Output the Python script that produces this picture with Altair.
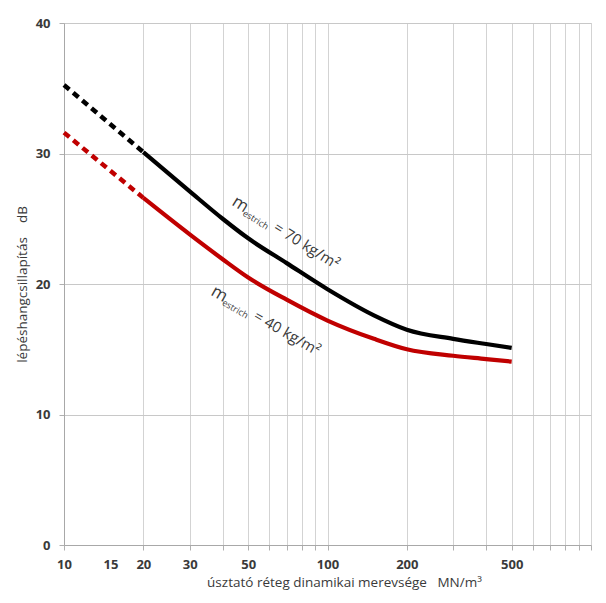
import altair as alt
import pandas as pd

# ---- data ----
x_solid = [20, 30, 40, 50, 70, 100, 150, 200, 300, 400, 500]
black_solid = [30.1, 27.1, 25.0, 23.5, 21.6, 19.6, 17.6, 16.5, 15.8, 15.4, 15.1]
red_solid = [26.6, 23.8, 21.9, 20.5, 18.8, 17.2, 15.8, 15.0, 14.5, 14.25, 14.05]

x_dash = [10, 20]
black_dash = [35.25, 30.1]
red_dash = [31.6, 26.6]

x_grid_values = [10, 15, 20, 30, 40, 50, 60, 70, 80, 90, 100,
                 200, 300, 400, 500, 600, 700, 800, 900, 1000]
x_label_values = [10, 15, 20, 30, 50, 100, 200, 500]
y_values = [0, 10, 20, 30, 40]

# annotation anchors (data coords), angle
ann_x = [43.0, 35.8]
ann_y = [26.1, 19.2]
ann_main = ["= 70 kg/m²", "= 40 kg/m²"]
ann_angle = [32, 30]

BLACK = "#000000"
RED = "#c00000"
TXT = "#3a3a3a"
FONT = "Open Sans"
NB = "\u00a0"

solid = pd.DataFrame({
    "x": x_solid * 2,
    "y": black_solid + red_solid,
    "s": ["70"] * len(x_solid) + ["40"] * len(x_solid),
})
dash = pd.DataFrame({
    "x": x_dash * 2,
    "y": black_dash + red_dash,
    "s": ["70"] * len(x_dash) + ["40"] * len(x_dash),
})

lab_list = ",".join(str(v) for v in x_label_values)
x_axis = alt.Axis(
    values=x_grid_values,
    labelExpr=f"indexof([{lab_list}], datum.value) >= 0 ? format(datum.value, 'd') : ''",
    labelOverlap=False,
    labelFlush=False,
    labelFont=FONT, labelFontSize=13, labelFontWeight="bold", labelColor=TXT,
    labelPadding=8,
    grid=True, gridColor="#d3d3d3", gridWidth=1,
    gridOpacity={"condition": {"test": "datum.value == 15", "value": 0}, "value": 1},
    tickOpacity={"condition": {"test": "datum.value == 15", "value": 0}, "value": 1},
    tickColor="#b0b0b0", tickSize=5,
    domainColor="#a8a8a8",
    title=f"úsztató réteg dinamikai merevsége{NB}{NB}{NB}MN/m³",
    titleFont=FONT, titleFontSize=13.5, titleFontWeight="normal", titleColor=TXT,
    titlePadding=4, titleX=280,
)
y_axis = alt.Axis(
    values=y_values,
    labelFont=FONT, labelFontSize=13, labelFontWeight="bold", labelColor=TXT,
    labelPadding=9,
    grid=True, gridColor="#c8c8c8", gridWidth=1,
    tickColor="#b0b0b0", tickSize=5,
    domainColor="#a8a8a8",
    title=f"lépéshangcsillapítás{NB}{NB}{NB}{NB}dB",
    titleFont=FONT, titleFontSize=13.5, titleFontWeight="normal", titleColor=TXT,
    titlePadding=6,
)

xs = alt.Scale(type="log", domain=[10, 1000], nice=False)
ys = alt.Scale(domain=[0, 40], nice=False)
col = alt.Color("s:N", scale=alt.Scale(domain=["70", "40"], range=[BLACK, RED]), legend=None)

base_solid = alt.Chart(solid).mark_line(strokeWidth=4.2, interpolate="monotone").encode(
    x=alt.X("x:Q", scale=xs, axis=x_axis),
    y=alt.Y("y:Q", scale=ys, axis=y_axis),
    color=col,
    detail="s:N",
)
base_dash = alt.Chart(dash).mark_line(strokeWidth=4.5, strokeDash=[7, 5]).encode(
    x=alt.X("x:Q", scale=xs),
    y=alt.Y("y:Q", scale=ys),
    color=col,
    detail="s:N",
)

ann = pd.DataFrame({"x": ann_x, "y": ann_y, "main": ann_main, "angle": ann_angle,
                    "m": ["m", "m"], "sub": ["estrich", "estrich"]})

def ann_layer(field, size, dx, dy):
    return alt.Chart(ann).mark_text(
        align="left", baseline="alphabetic", font=FONT, fontSize=size,
        color=TXT, dx=dx, dy=dy,
    ).encode(
        x=alt.X("x:Q", scale=xs),
        y=alt.Y("y:Q", scale=ys),
        text=f"{field}:N",
        angle=alt.Angle("angle:Q", scale=None),
    )

t_m = ann_layer("m", 17, 0, 0)
t_sub = ann_layer("sub", 9, 15, 3)
t_main = ann_layer("main", 15, 49, 0)

chart = alt.layer(base_solid, base_dash, t_m, t_sub, t_main).properties(
    width=527, height=522,
    autosize=alt.AutoSizeParams(type="none"),
    padding={"left": 56, "top": 15, "right": 7, "bottom": 50},
).configure_view(stroke=None).configure(font=FONT)

chart.save("out.html", embed_options={"renderer": "svg", "actions": False})
